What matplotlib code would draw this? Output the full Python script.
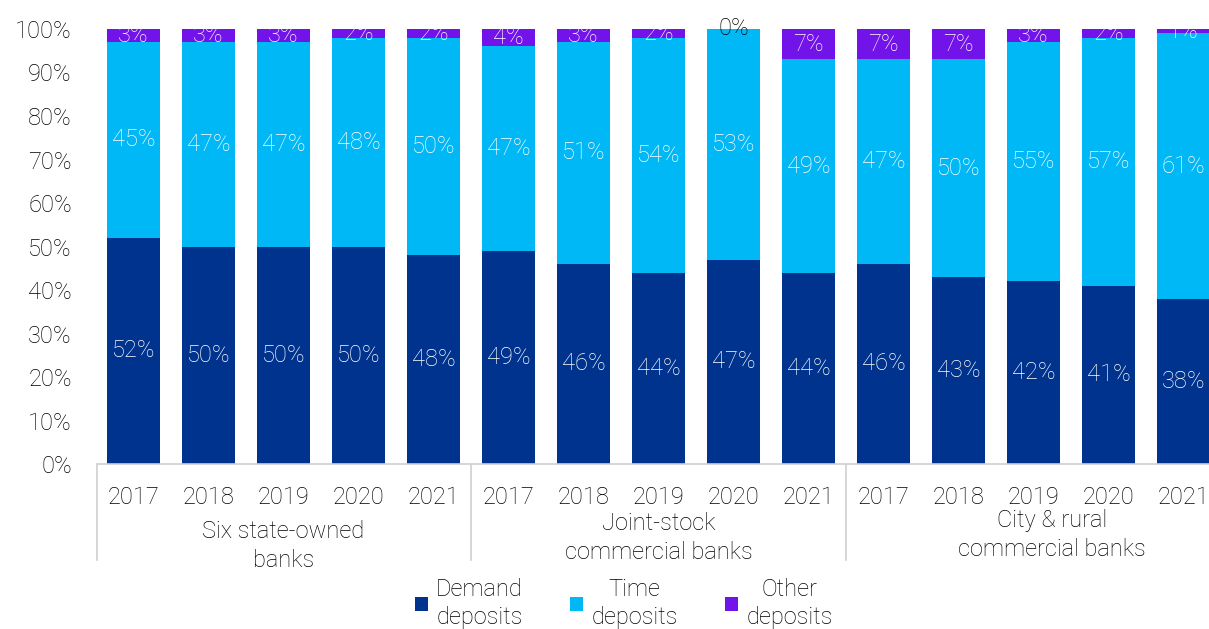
import numpy as np
import matplotlib
matplotlib.use("Agg")
import matplotlib.pyplot as plt
from matplotlib.patches import Patch

plt.rcParams['font.family'] = ['Roboto', 'DejaVu Sans']
plt.rcParams['font.weight'] = 'light'
FS = 17

# deposit mix by bank type, 2017-2021 (% of total deposits)
years = ['2017', '2018', '2019', '2020', '2021'] * 3
groups = ['Six state-owned\nbanks', 'Joint-stock\ncommercial banks', 'City & rural\ncommercial banks']
demand = [52, 50, 50, 50, 48, 49, 46, 44, 47, 44, 46, 43, 42, 41, 38]
time_dep = [45, 47, 47, 48, 50, 47, 51, 54, 53, 49, 47, 50, 55, 57, 61]
other = [3, 3, 3, 2, 2, 4, 3, 2, 0, 7, 7, 7, 3, 2, 1]
series_names = ['Demand\ndeposits', 'Time\ndeposits', 'Other\ndeposits']
colors = ['#00338D', '#00B8F5', '#7213EA']

fig = plt.figure(figsize=(12.09, 6.29), dpi=100)
ax = fig.add_axes([0.0802, 0.2623, 0.9198, 0.6916])

x = np.arange(len(demand))
w = 0.707
bottom = np.zeros(len(x))
for vals, col in zip([demand, time_dep, other], colors):
    vals = np.array(vals, dtype=float)
    ax.bar(x, vals, w, bottom=bottom, color=col, edgecolor='none', zorder=2)
    for xi, b, v in zip(x, bottom, vals):
        if v == 0:
            ax.text(xi, b, '0%', ha='center', va='center', color='black', fontsize=FS)
        else:
            ax.text(xi, b + v / 2, f'{int(v)}%', ha='center', va='center',
                    color='white', fontsize=FS)
    bottom += vals

ax.set_xlim(-0.487, 14.34)
ax.set_ylim(0, 100)
ax.set_yticks(np.arange(0, 101, 10))
ax.set_yticklabels([f'{v}%' for v in range(0, 101, 10)], fontsize=FS)
ax.set_xticks(x)
ax.set_xticklabels(years, fontsize=FS)
ax.tick_params(axis='y', length=0, pad=18)
ax.tick_params(axis='x', length=0, pad=16)
for s in ['top', 'right', 'left']:
    ax.spines[s].set_visible(False)
ax.spines['bottom'].set_color('#D0D0D0')
ax.spines['bottom'].set_linewidth(1.2)

# group separators below the axis
for sx in [-0.487, 4.5, 9.5]:
    ax.plot([sx, sx], [0, -0.22], transform=ax.get_xaxis_transform(),
            color='#D0D0D0', lw=1.2, clip_on=False)

for gx, gy, g in zip([2.0, 7.0, 12.25], [-0.188, -0.17, -0.163], groups):
    ax.text(gx, gy, g, transform=ax.get_xaxis_transform(), ha='center', va='center',
            fontsize=FS, linespacing=1.35)

handles = [Patch(facecolor=c, edgecolor='none') for c in colors]
leg = fig.legend(handles, series_names, loc='center', bbox_to_anchor=(0.516, 0.041),
                 ncol=3, frameon=False, fontsize=FS, handlelength=0.55, handleheight=0.55,
                 handletextpad=0.35, columnspacing=2.0)
for t in leg.get_texts():
    t.set_multialignment('center')
    t.set_linespacing(1.3)

fig.savefig('out.png', dpi=100)
